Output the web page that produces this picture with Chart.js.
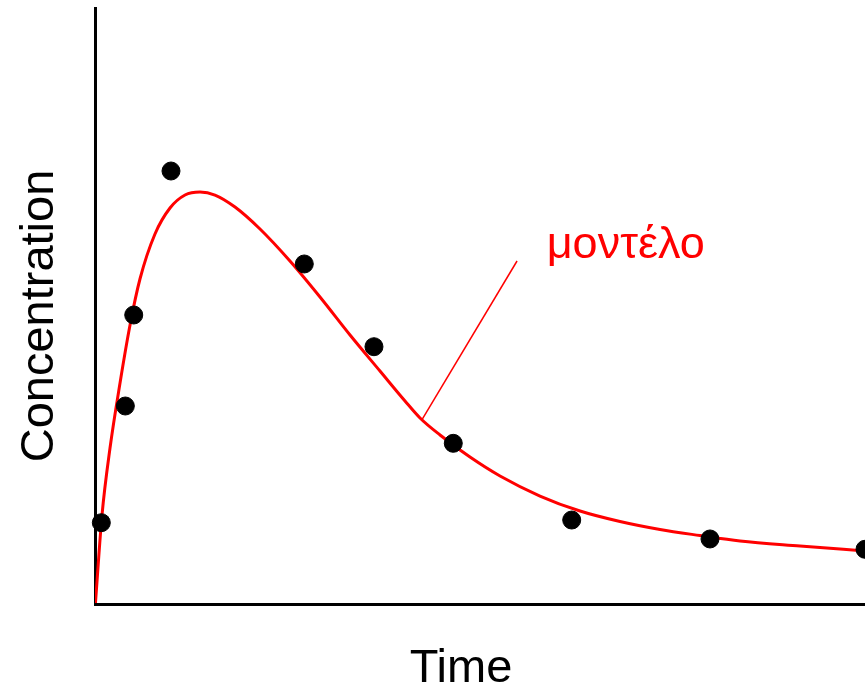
<!DOCTYPE html>
<html>
<head>
<meta charset="utf-8">
<script src="https://cdn.jsdelivr.net/npm/chart.js@4/dist/chart.umd.min.js"></script>
<style>
  html, body { margin: 0; padding: 0; background: #ffffff; }
  #wrap { width: 865px; height: 687px; }
</style>
</head>
<body>
<div id="wrap"><canvas id="c" width="865" height="687"></canvas></div>
<script>
// Observed concentrations
const obsTime = [0.082, 0.394, 0.503, 0.987, 2.718, 3.623, 4.653, 6.191, 7.987, 10.0];
const obsConc = [1.364, 3.322, 4.849, 7.265, 5.705, 4.317, 2.696, 1.409, 1.091, 0.918];

// Model curve
const modelTime = [0.006, 0.091, 0.195, 0.325, 0.455, 0.584, 0.779, 0.974, 1.169, 1.364, 1.558, 1.818, 2.143, 2.532, 2.922, 3.312, 3.701, 4.026, 4.221, 4.481, 4.870, 5.260, 5.779, 6.299, 6.818, 7.338, 7.857, 8.377, 9.156, 10.0];
const modelConc = [0.017, 1.493, 2.617, 3.708, 4.681, 5.453, 6.208, 6.644, 6.862, 6.913, 6.862, 6.661, 6.292, 5.755, 5.151, 4.513, 3.909, 3.406, 3.121, 2.836, 2.466, 2.148, 1.812, 1.560, 1.384, 1.250, 1.149, 1.057, 0.973, 0.889];

// Model label and its leader line (data units)
const modelLabel = 'μοντέλο';
const labelAt = [5.866, 5.810];
const leaderFrom = [5.481, 5.755];
const leaderTo = [4.243, 3.087];

const xTitle = 'Time';
const yTitle = 'Concentration';

const RED = '#ff0000';

const annotate = {
  id: 'annotate',
  afterDraw(chart) {
    const { ctx, scales: { x, y } } = chart;
    ctx.save();
    // leader line
    ctx.strokeStyle = RED;
    ctx.lineWidth = 1.5;
    ctx.beginPath();
    ctx.moveTo(x.getPixelForValue(leaderFrom[0]), y.getPixelForValue(leaderFrom[1]));
    ctx.lineTo(x.getPixelForValue(leaderTo[0]), y.getPixelForValue(leaderTo[1]));
    ctx.stroke();
    // model label
    ctx.fillStyle = RED;
    ctx.font = '45px "Liberation Sans", Arial, sans-serif';
    ctx.textAlign = 'left';
    ctx.textBaseline = 'alphabetic';
    ctx.fillText(modelLabel, x.getPixelForValue(labelAt[0]), y.getPixelForValue(labelAt[1]));
    // axis titles
    ctx.fillStyle = '#000000';
    ctx.font = '47px "Liberation Sans", Arial, sans-serif';
    ctx.textAlign = 'center';
    ctx.fillText(xTitle, 461, 682);
    ctx.translate(53, 316);
    ctx.rotate(-Math.PI / 2);
    ctx.fillText(yTitle, 0, 0);
    ctx.restore();
  }
};

new Chart(document.getElementById('c'), {
  type: 'scatter',
  data: {
    datasets: [
      {
        label: 'observed',
        data: obsTime.map((t, i) => ({ x: t, y: obsConc[i] })),
        backgroundColor: '#000000',
        borderColor: '#000000',
        pointRadius: 9,
        pointHoverRadius: 9,
        clip: false
      },
      {
        label: modelLabel,
        data: modelTime.map((t, i) => ({ x: t, y: modelConc[i] })),
        showLine: true,
        borderColor: RED,
        borderWidth: 3,
        pointRadius: 0,
        cubicInterpolationMode: 'monotone',
        fill: false
      }
    ]
  },
  options: {
    responsive: false,
    animation: false,
    events: [],
    layout: { autoPadding: false, padding: { top: 8, right: 0, left: 0, bottom: 0 } },
    plugins: { legend: { display: false }, tooltip: { enabled: false } },
    scales: {
      x: {
        type: 'linear', min: 0, max: 10,
        grid: { display: false },
        border: { display: true, color: '#000000', width: 3 },
        ticks: { display: false },
        afterFit(s) { s.height = 83; }
      },
      y: {
        type: 'linear', min: 0, max: 10,
        grid: { display: false },
        border: { display: true, color: '#000000', width: 3 },
        ticks: { display: false },
        afterFit(s) { s.width = 95; }
      }
    }
  },
  plugins: [annotate]
});
</script>
</body>
</html>
